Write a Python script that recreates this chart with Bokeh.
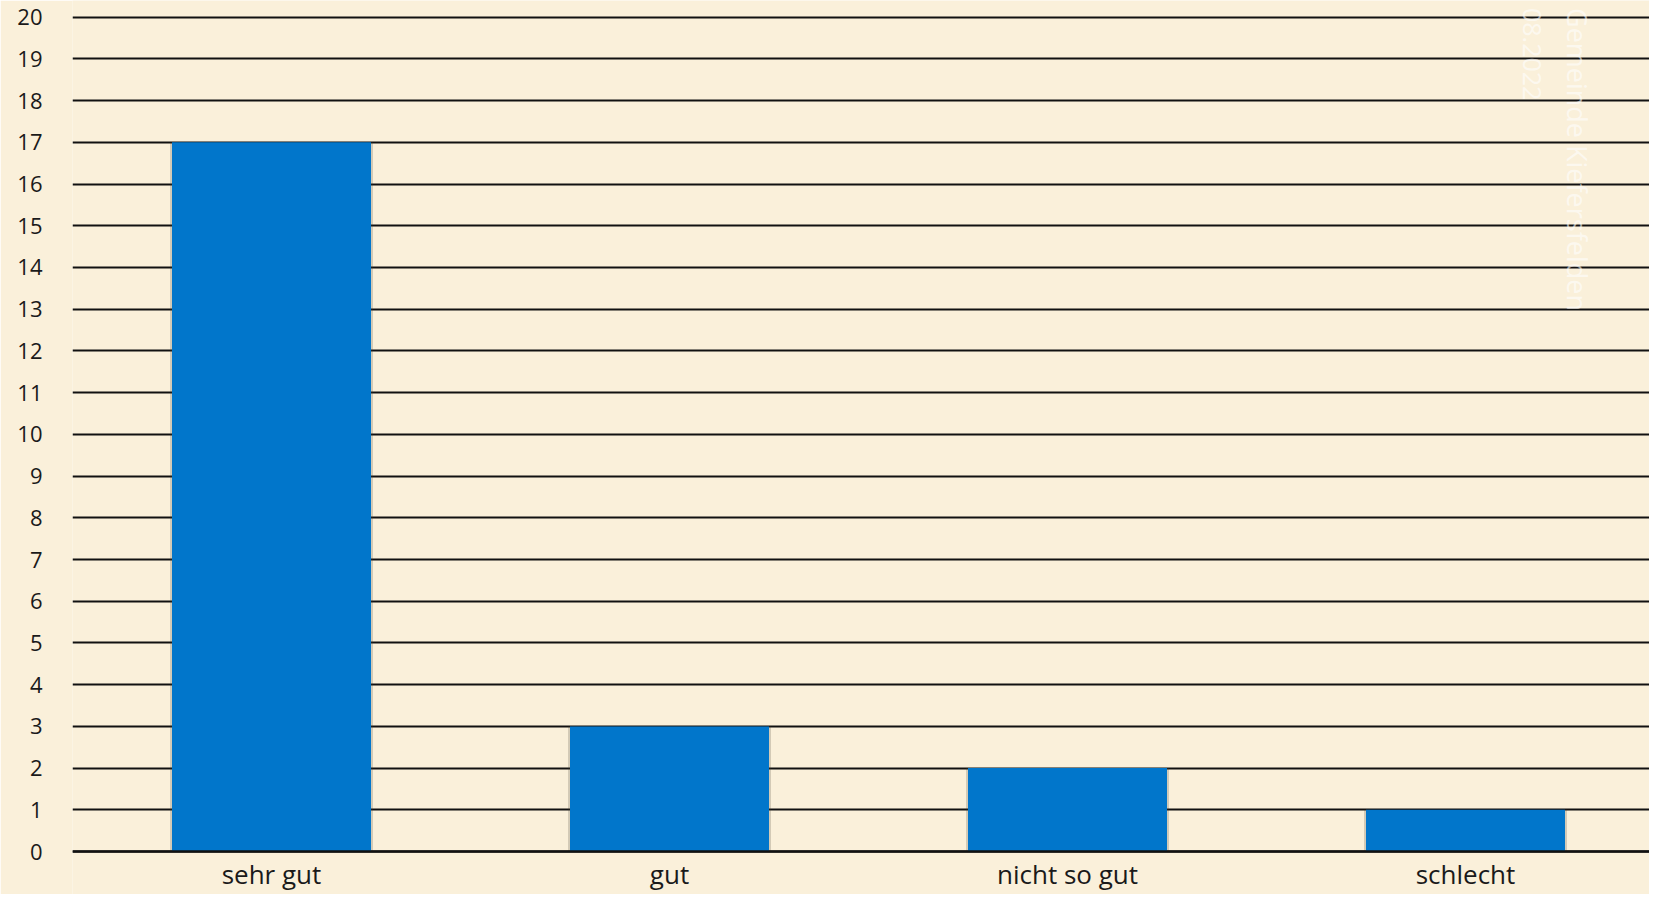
import math
from bokeh.plotting import figure
from bokeh.models import Range1d, Label, FixedTicker, ColumnDataSource
from bokeh.core.properties import value
from bokeh.embed import file_html
from bokeh.resources import INLINE

categories = ["sehr gut", "gut", "nicht so gut", "schlecht"]
counts = [17, 3, 2, 1]
y_ticks = list(range(0, 21))

BG = "#faf0da"
BAR = "#0176cb"

xpos = [i + 0.5 for i in range(len(categories))]
src = ColumnDataSource(dict(x=xpos, cat=categories, val=counts,
                            ly=[-0.55] * len(categories)))

W, H = 1649, 894
LEFT = 72
p = figure(
    width=W, height=H,
    x_range=Range1d(0, (W - LEFT) / 398.0),
    y_range=Range1d(-1.03, 20.4),
    output_backend="svg", toolbar_location=None,
    min_border_left=LEFT, min_border_right=0, min_border_top=0, min_border_bottom=0,
    background_fill_color=BG, border_fill_color=BG,
)
p.outline_line_color = None

# soft bar shadow
p.vbar(x="x", top="val", bottom=0, width=0.51, source=src,
       fill_color="#4a4536", fill_alpha=0.22, line_color=None)
p.vbar(x="x", top="val", bottom=0, width=0.5, source=src,
       fill_color=BAR, line_color=None)

# horizontal grid
p.xgrid.grid_line_color = None
p.ygrid.grid_line_color = "#111111"
p.ygrid.grid_line_width = 2
p.ygrid.ticker = FixedTicker(ticks=y_ticks)

# baseline over bars
p.hspan(y=[0], line_color="#111111", line_width=2.5)

p.yaxis.ticker = FixedTicker(ticks=y_ticks)
p.yaxis.axis_line_color = None
p.yaxis.major_tick_line_color = None
p.yaxis.minor_tick_line_color = None
p.yaxis.major_tick_out = 0
p.yaxis.major_tick_in = 0
p.yaxis.major_label_standoff = 30
p.yaxis.major_label_text_font = "Open Sans"
p.yaxis.major_label_text_font_size = "22px"
p.yaxis.major_label_text_color = "#1a1a1a"

p.xaxis.visible = False

# category labels
p.text(x="x", y="ly", text="cat", source=src,
       text_font=value("Open Sans"), text_font_size="26px", text_color="#1a1a1a",
       text_align="center", text_baseline="middle")

# watermark
p.add_layout(Label(x=3.781, y=20.22, text="Gemeinde Kiefersfelden", angle=-math.pi / 2,
                   text_font="Open Sans", text_font_size="27px", text_color="white",
                   text_alpha=0.6, text_align="left", text_baseline="middle"))
p.add_layout(Label(x=3.668, y=20.22, text="08.2022", angle=-math.pi / 2,
                   text_font="Open Sans", text_font_size="25px", text_color="white",
                   text_alpha=0.6, text_align="left", text_baseline="middle"))

open("out.html", "w").write(file_html(p, INLINE))
